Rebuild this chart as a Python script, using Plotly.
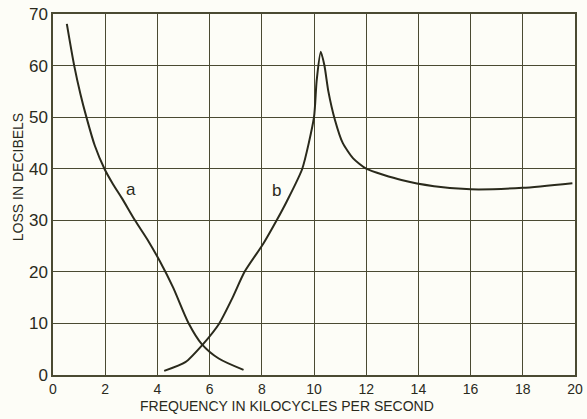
import plotly.graph_objects as go

# Curve a
a_freq = [0.53, 0.82, 1.05, 1.28, 1.6, 1.97, 2.3, 2.65, 3.14, 3.65, 4.1, 4.6, 5.2, 5.7, 6.35, 7.3]
a_loss = [68.1, 59.8, 54.5, 50.0, 44.5, 40.0, 37.0, 34.2, 30.0, 26.0, 22.0, 17.0, 10.0, 6.0, 3.2, 1.0]

# Curve b
b_freq = [4.26, 5.07, 5.75, 6.37, 6.88, 7.34, 8.05, 8.57, 8.96, 9.55, 10.0, 10.1, 10.26, 10.4, 10.55, 10.8,
          11.1, 11.5, 12.0, 13.35, 14.6, 16.0, 18.0, 19.9]
b_loss = [0.8, 2.5, 6.0, 10.0, 15.0, 20.0, 25.4, 30.0, 33.7, 40.0, 50.0, 57.0, 62.7, 60.0, 55.0, 49.5,
          45.0, 42.0, 40.0, 37.8, 36.6, 36.0, 36.3, 37.2]

x_ticks = [0, 2, 4, 6, 8, 10, 12, 14, 16, 18, 20]
y_ticks = [0, 10, 20, 30, 40, 50, 60, 70]

line_col = "#2a2a1c"
grid_col = "#4a4a32"
bg = "#fdfdf7"
font_fam = "Liberation Sans, Arial, sans-serif"

fig = go.Figure()
fig.add_trace(go.Scatter(x=a_freq, y=a_loss, mode="lines",
                         line=dict(color=line_col, width=2, shape="spline", smoothing=0.8),
                         showlegend=False, hoverinfo="skip"))
fig.add_trace(go.Scatter(x=b_freq, y=b_loss, mode="lines",
                         line=dict(color=line_col, width=2, shape="spline", smoothing=0.6),
                         showlegend=False, hoverinfo="skip"))

fig.add_annotation(x=2.99, y=35.9, text="a", showarrow=False, xanchor="center", yanchor="middle",
                   font=dict(family=font_fam, size=17, color=line_col))
fig.add_annotation(x=8.58, y=35.7, text="b", showarrow=False, xanchor="center", yanchor="middle",
                   font=dict(family=font_fam, size=17, color=line_col))

fig.add_annotation(xref="paper", yref="paper", x=0.448, y=-0.086, xanchor="center", yanchor="middle",
                   text="FREQUENCY IN KILOCYCLES PER SECOND",
                   showarrow=False, font=dict(family=font_fam, size=14, color=line_col))
fig.add_annotation(xref="paper", yref="paper", x=-0.067, y=0.548, xanchor="center", yanchor="middle",
                   text="LOSS IN DECIBELS",
                   textangle=-90, showarrow=False, font=dict(family=font_fam, size=14, color=line_col))

fig.update_xaxes(range=[0, 20], tickvals=x_ticks, ticktext=[str(v) for v in x_ticks],
                 showgrid=True, gridcolor=grid_col, gridwidth=1.3,
                 showline=True, linecolor=grid_col, linewidth=1.5, mirror=True,
                 zeroline=False, ticks="", ticklen=0, ticklabeloverflow="allow", automargin=False,
                 tickfont=dict(family=font_fam, size=14, color=line_col))
fig.update_yaxes(range=[0, 70], tickvals=y_ticks, ticktext=[str(v) for v in y_ticks],
                 showgrid=True, gridcolor=grid_col, gridwidth=1.3,
                 showline=True, linecolor=grid_col, linewidth=1.5, mirror=True,
                 zeroline=False, ticks="", ticklen=0, ticklabeloverflow="allow", automargin=False,
                 tickfont=dict(family=font_fam, size=17, color=line_col))

fig.update_layout(width=587, height=419,
                  margin=dict(l=53, r=12, t=14, b=44, autoexpand=False),
                  paper_bgcolor=bg, plot_bgcolor=bg)

fig.write_html("out.html", config={"displayModeBar": False},
               post_script="document.body.style.margin='0';document.body.style.overflow='hidden';")
